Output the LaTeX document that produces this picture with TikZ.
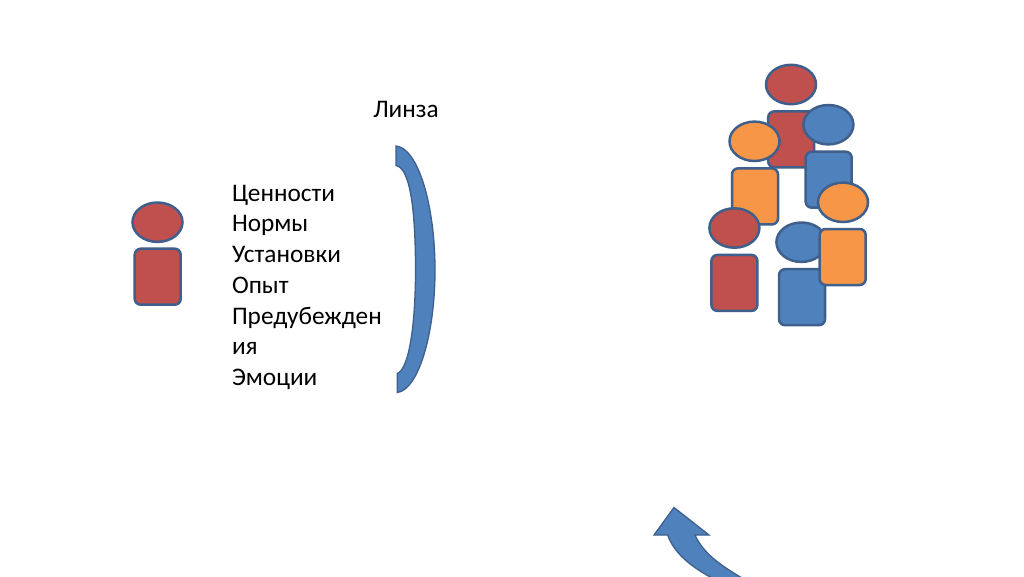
\documentclass[tikz,border=0pt]{standalone}
\usepackage{fontspec}
\setmainfont{Carlito}
\usetikzlibrary{shapes.geometric}
\definecolor{sred}{HTML}{C0504D}
\definecolor{sblue}{HTML}{4F81BD}
\definecolor{sorange}{HTML}{F79646}
\definecolor{sline}{HTML}{3F5F8C}
\tikzset{
  head/.style={ellipse,draw=sline,line width=2.5pt,fill=#1,minimum width=50pt,minimum height=39.4pt,inner sep=0pt,outer sep=0pt},
  body/.style={rectangle,draw=sline,line width=2.5pt,fill=#1,minimum width=46pt,minimum height=56pt,inner sep=0pt,outer sep=0pt,rounded corners=6pt},
  solid shape/.style={draw=sline,line width=1.3pt,fill=sblue,line join=miter},
  label text/.style={text=black,font=\fontsize{25.3}{30.7}\selectfont,inner sep=0pt,outer sep=0pt}
}
\begin{document}
\begin{tikzpicture}[x=1pt,y=-1pt]
\useasboundingbox (0,0) rectangle (1024,576);
\fill[white] (0,0) rectangle (1024,576);
% single person
\node[head=sred] (lonehead) at (157.5,222.2) {};
\node[body=sred] (lonebody) at (157.7,276.7) {};
% texts
\node[label text,anchor=center] (lenslabel) at (406,109.5) {Линза};
\node[label text,anchor=north west,align=left] (values) at (232,185)
  {Ценности\\Нормы\\Установки\\Опыт\\Предубежден\\ия\\Эмоции};
% lens
\path[solid shape] (396,146) .. controls (418,148) and (435,205) .. (435,270)
  .. controls (435,335) and (418,390) .. (397.3,392.5) -- (397.3,373.5)
  .. controls (409,369) and (415.5,325) .. (415.5,270)
  .. controls (415.5,215) and (411,168) .. (396,165.5) -- cycle;
% group
\node[head=sred] (h1) at (791,84.5) {};
\node[body=sred] (b1) at (791.2,139.4) {};
\node[head=sblue] (h2) at (828.4,124.7) {};
\node[head=sorange] (h3) at (754.5,141.3) {};
\node[body=sblue] (b2) at (828.7,179.7) {};
\node[body=sorange] (b3) at (755,196.4) {};
\node[head=sorange] (h4) at (843,202.3) {};
\node[head=sred] (h5) at (734.4,228) {};
\node[body=sred] (b5) at (734.4,282.9) {};
\node[head=sblue] (h6) at (801.4,242.2) {};
\node[body=sblue] (b6) at (802,297.2) {};
\node[body=sorange] (b4) at (842.7,257) {};
% curved arrow
\path[solid shape] (674,507.5) -- (709,535) -- (695,535)
  .. controls (703,553) and (720,565) .. (742,578)
  -- (712,578) .. controls (690,566) and (674,553) .. (667.7,535)
  -- (654,535) -- cycle;
\end{tikzpicture}
\end{document}
